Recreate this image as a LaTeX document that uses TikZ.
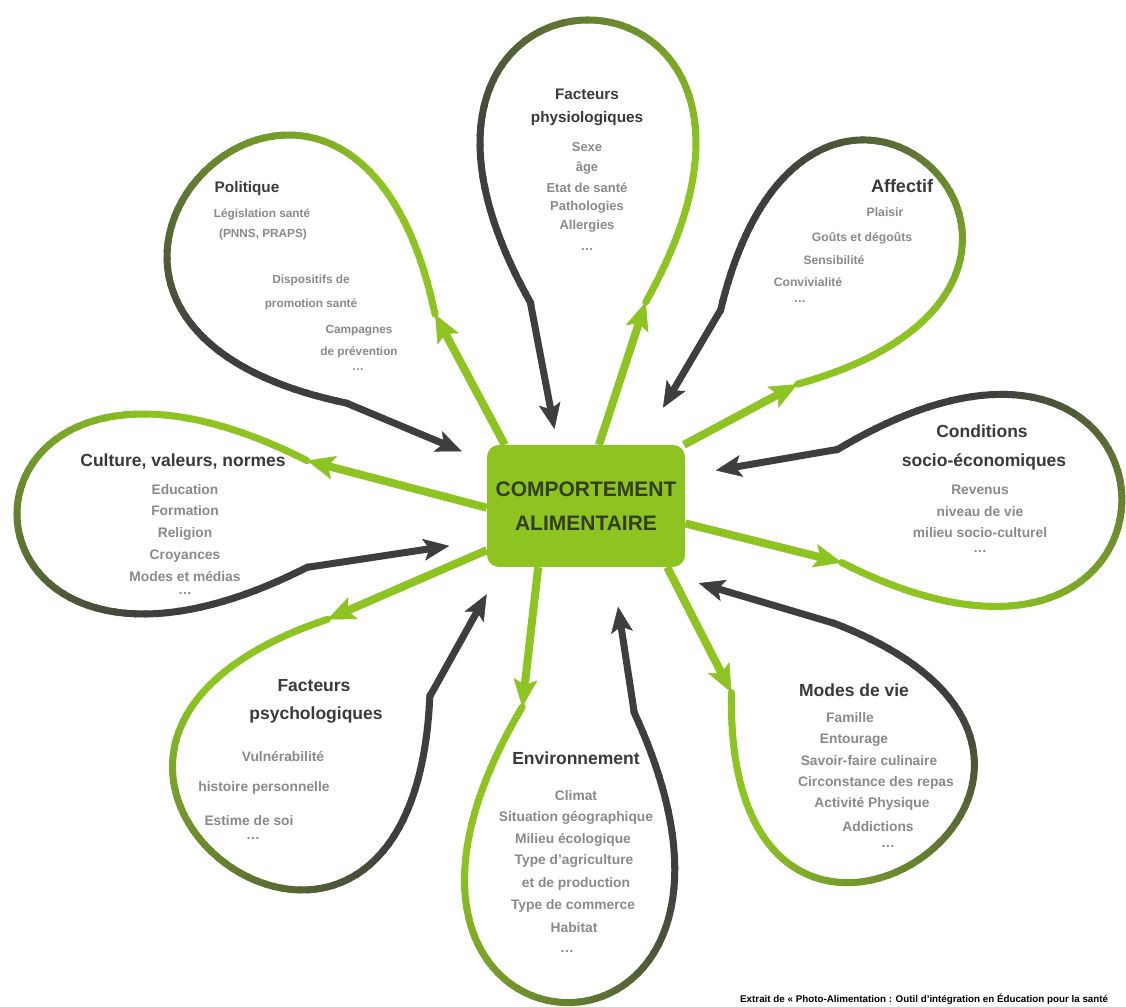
\documentclass[tikz,border=0pt]{standalone}
\usepackage{fontspec}
\setmainfont{Liberation Sans}
\usetikzlibrary{arrows.meta}

\definecolor{verde}{RGB}{141,196,34}
\definecolor{escuro}{RGB}{62,62,62}
\definecolor{cinza}{RGB}{138,138,138}
\definecolor{tinta}{RGB}{58,58,58}
\definecolor{tintacaixa}{RGB}{52,62,30}

\begin{document}
\begin{tikzpicture}[x=1pt,y=1pt,
  caixa/.style={rectangle,rounded corners=12pt,fill=verde,minimum width=198pt,minimum height=122pt,
    align=center,text=tintacaixa,font=\bfseries\fontsize{21pt}{34pt}\selectfont},
  balao/.style={line width=7pt,line cap=round},
  setaverde/.style={draw=verde,line width=8pt,-{Stealth[length=28pt,width=24pt,inset=6pt,line width=0.5pt]}},
  setaescura/.style={draw=escuro,line width=7pt,-{Stealth[length=26pt,width=22pt,inset=6pt,line width=0.5pt]}},
  titulo/.style={anchor=base,inner sep=0pt,text=tinta,font=\bfseries\fontsize{#1}{#1}\selectfont},
  titulo/.default=17.5pt,
  itens/.style={anchor=base,inner sep=0pt,text=cinza,font=\bfseries\fontsize{#1}{#1}\selectfont},
  itens/.default=13.8pt]
  \fill[white] (0,0) rectangle (1126,1006);
  \useasboundingbox (0,0) rectangle (1126,1006);

  % baloes: nome/ponta x/ponta y/angulo/comprimento/largura
  % o traco passa do verde (lado da seta verde) para o escuro
  \foreach \nome/\px/\py/\ang/\comp/\larg in {
      politique/448/590/135/345/235,
      physio/588/617/90/369/216,
      affectif/706/604/46/325/200,
      conditions/753/497/2/369/212,
      modes/741/410/-56/318/232,
      environnement/583/386/-93/383/210,
      psycho/426/411/-127/335/240,
      culture/396/492/180/379/200}{
    \begin{scope}[shift={(\px,\py)},rotate=\ang]
      \coordinate (\nome-v) at ({\comp*(1-cos(58))/2},{-0.6494*\larg*sin(58)*sin(29)});
      \coordinate (\nome-e) at ({\comp*(1-cos(58))/2},{0.6494*\larg*sin(58)*sin(29)});
      \foreach \i in {0,...,71}{
        \pgfmathsetmacro\ta{58+\i*3.38889}
        \pgfmathsetmacro\tb{\ta+3.78889}
        \pgfmathtruncatemacro\mix{min(100,max(0,((\i+0.5)/72-0.2)/0.6*100))}
        \draw[balao,draw=escuro!\mix!verde] plot[domain=\ta:\tb,samples=4]
          ({\comp*(1-cos(\x))/2},{-0.6494*\larg*sin(\x)*sin(\x/2)});
      }
    \end{scope}
  }

  \node[caixa] (caixa) at (586,500) {COMPORTEMENT\\ALIMENTAIRE};

  % setas: nome/saida verde/chegada escura/recuo
  \foreach \nome/\sv/\ce/\rec in {politique/143/156/27, physio/78/115/16, affectif/32/48/43,
      conditions/350/17/31, modes/323/314/56, environnement/232/293/40,
      psycho/204/216/31, culture/181/199/38}{
    \draw[setaverde] (caixa.\sv) -- (\nome-v);
    \draw[setaescura,shorten >=\rec pt] (\nome-e) -- (caixa.\ce);
  }

  % textos dos baloes
  \node[titulo=15.3pt] (politique-t) at (247,813) {Politique};
  \foreach \txt/\px/\py [count=\k] in {Législation santé/262/788, {(PNNS, PRAPS)}/263/768,
      Dispositifs de/311/722, promotion santé/311/698, Campagnes/359/672,
      de prévention/359/650, {\ldots}/358/635}
    \node[itens=11.8pt] (politique-\k) at (\px,\py) {\txt};

  \node[titulo=15.3pt] (physio-t1) at (587,906) {Facteurs};
  \node[titulo=15.3pt] (physio-t2) at (587,883) {physiologiques};
  \foreach \txt/\py [count=\k] in {Sexe/854, âge/834, Etat de santé/813, Pathologies/795,
      Allergies/776, {\ldots}/755}
    \node[itens=13pt] (physio-\k) at (587,\py) {\txt};

  \node[titulo=18pt] (affectif-t) at (902,813) {Affectif};
  \foreach \txt/\px/\py [count=\k] in {Plaisir/885/789, Goûts et dégoûts/862/764,
      Sensibilité/834/741, Convivialité/808/719, {\ldots}/800/703}
    \node[itens=12.2pt] (affectif-\k) at (\px,\py) {\txt};

  \node[titulo] (conditions-t1) at (982,568) {Conditions};
  \node[titulo] (conditions-t2) at (984,539) {socio-économiques};
  \foreach \txt/\py [count=\k] in {Revenus/511, niveau de vie/489, milieu socio-culturel/468, {\ldots}/453}
    \node[itens] (conditions-\k) at (980,\py) {\txt};

  \node[titulo] (culture-t) at (183,539) {Culture, valeurs, normes};
  \foreach \txt/\py [count=\k] in {Education/511, Formation/490, Religion/468, Croyances/446,
      Modes et médias/424, {\ldots}/411}
    \node[itens] (culture-\k) at (185,\py) {\txt};

  \node[titulo] (psycho-t1) at (314,314) {Facteurs};
  \node[titulo] (psycho-t2) at (316,286) {psychologiques};
  \foreach \txt/\px/\py [count=\k] in {Vulnérabilité/283/244, histoire personnelle/264/214,
      Estime de soi/249/180, {\ldots}/253/166}
    \node[itens] (psycho-\k) at (\px,\py) {\txt};

  \node[titulo] (environnement-t) at (576,241) {Environnement};
  \foreach \txt/\px/\py [count=\k] in {Climat/576/205, Situation géographique/576/184,
      Milieu écologique/573/162, Type d'agriculture/574/141, et de production/576/118,
      Type de commerce/573/96, Habitat/574/74, {\ldots}/567/54}
    \node[itens] (environnement-\k) at (\px,\py) {\txt};

  \node[titulo] (modes-t) at (854,309) {Modes de vie};
  \foreach \txt/\px/\py [count=\k] in {Famille/850/283, Entourage/854/262,
      Savoir-faire culinaire/869/240, Circonstance des repas/876/219,
      Activité Physique/872/198, Addictions/878/174, {\ldots}/888/158}
    \node[itens] (modes-\k) at (\px,\py) {\txt};

  % fonte, no rodape
  \node[anchor=base west,inner sep=0pt,font=\bfseries\fontsize{9.8pt}{9.8pt}\selectfont] (fonte)
    at (740,4) {Extrait de « Photo-Alimentation : Outil d'intégration en Éducation pour la santé};
\end{tikzpicture}
\end{document}
